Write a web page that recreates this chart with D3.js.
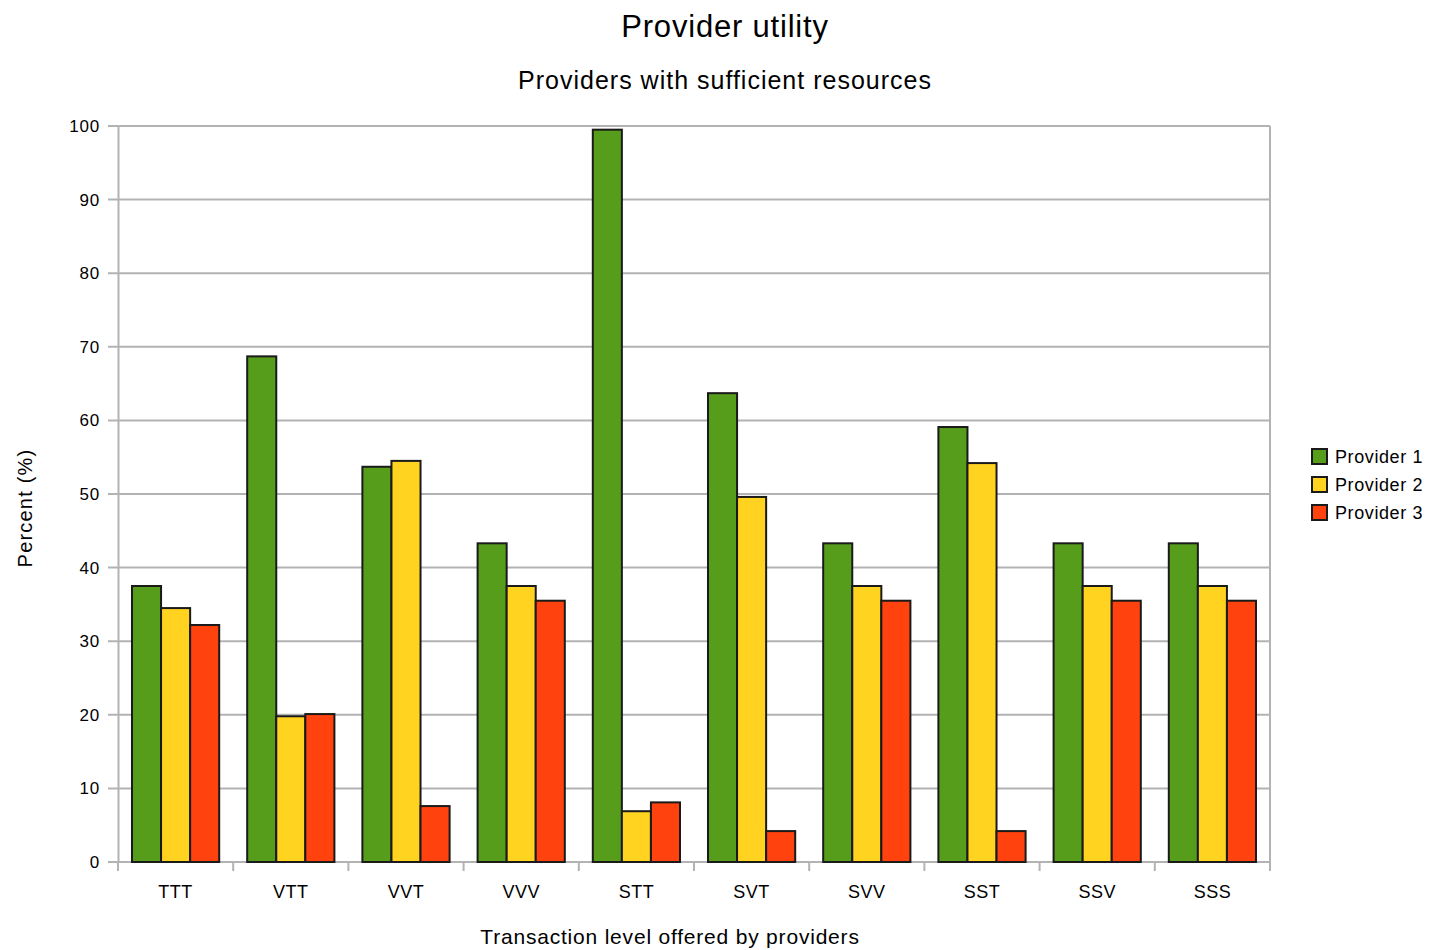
<!DOCTYPE html>
<html>
<head>
<meta charset="utf-8">
<script src="https://cdn.jsdelivr.net/npm/d3@7"></script>
<style>
  body { margin: 0; background: #fff; }
  text { font-family: "Liberation Sans", Arial, sans-serif; fill: #000; }
</style>
</head>
<body>
<div id="chart"></div>
<script>
// data
const levels = ["TTT", "VTT", "VVT", "VVV", "STT", "SVT", "SVV", "SST", "SSV", "SSS"];
const providers = ["Provider 1", "Provider 2", "Provider 3"];
const provider1 = [37.5, 68.7, 53.7, 43.3, 99.5, 63.7, 43.3, 59.1, 43.3, 43.3];
const provider2 = [34.5, 19.8, 54.5, 37.5, 6.9, 49.6, 37.5, 54.2, 37.5, 37.5];
const provider3 = [32.2, 20.1, 7.6, 35.5, 8.1, 4.2, 35.5, 4.2, 35.5, 35.5];
const yTicks = [0, 10, 20, 30, 40, 50, 60, 70, 80, 90, 100];
const colors = ["#579d1c", "#ffd320", "#ff420e"];

const series = [provider1, provider2, provider3];
const data = levels.map((lvl, i) => ({
    level: lvl,
    values: series.map((s, j) => ({ key: providers[j], value: s[i] }))
}));

const width = 1430, height = 950;
const margin = { top: 126, right: 160, bottom: 88, left: 118 };
const innerW = width - margin.left - margin.right;
const innerH = height - margin.top - margin.bottom;

const svg = d3.select("#chart")
    .append("svg")
    .attr("width", width)
    .attr("height", height);

const g = svg.append("g")
    .attr("transform", "translate(" + margin.left + "," + margin.top + ")");

const x0 = d3.scaleBand()
    .domain(levels)
    .range([0, innerW])
    .paddingInner(0.243)
    .paddingOuter(0.1215);

const x1 = d3.scaleBand()
    .domain(providers)
    .range([0, x0.bandwidth()]);

const y = d3.scaleLinear()
    .domain([0, 100])
    .range([innerH, 0]);

const color = d3.scaleOrdinal().domain(providers).range(colors);

// grid lines
g.append("g")
    .selectAll("line")
    .data(yTicks)
    .enter()
    .append("line")
    .attr("x1", -10)
    .attr("x2", innerW)
    .attr("y1", d => y(d))
    .attr("y2", d => y(d))
    .attr("stroke", "#b3b3b3")
    .attr("stroke-width", 2);

// y axis
const yAxis = g.append("g")
    .call(d3.axisLeft(y).tickValues(yTicks).tickSize(0).tickPadding(18));
yAxis.select(".domain").attr("stroke", "#b3b3b3").attr("stroke-width", 2);
yAxis.selectAll("text")
    .style("font-size", "17px")
    .style("letter-spacing", "0.8px")
    .style("font-family", "Liberation Sans, Arial, sans-serif");

// right border of plot
g.append("line")
    .attr("x1", innerW).attr("x2", innerW)
    .attr("y1", 0).attr("y2", innerH)
    .attr("stroke", "#b3b3b3")
    .attr("stroke-width", 2);

// x axis: ticks sit between the groups
const xAxis = g.append("g").attr("transform", "translate(0," + innerH + ")");
xAxis.append("line")
    .attr("x1", 0).attr("x2", innerW)
    .attr("stroke", "#b3b3b3").attr("stroke-width", 2);
const step = x0.step();
xAxis.selectAll(".sep")
    .data(d3.range(levels.length + 1))
    .enter()
    .append("line")
    .attr("x1", d => d * step)
    .attr("x2", d => d * step)
    .attr("y1", 0)
    .attr("y2", 9)
    .attr("stroke", "#b3b3b3")
    .attr("stroke-width", 2);
xAxis.selectAll(".lbl")
    .data(levels)
    .enter()
    .append("text")
    .attr("x", d => x0(d) + x0.bandwidth() / 2)
    .attr("y", 36)
    .style("text-anchor", "middle")
    .style("font-size", "18px")
    .style("letter-spacing", "0.5px")
    .text(d => d);

// bars
const groups = g.selectAll(".grp")
    .data(data)
    .enter()
    .append("g")
    .attr("transform", d => "translate(" + x0(d.level) + ",0)");

groups.selectAll("rect")
    .data(d => d.values)
    .enter()
    .append("rect")
    .attr("x", d => x1(d.key))
    .attr("y", d => y(d.value))
    .attr("width", x1.bandwidth())
    .attr("height", d => innerH - y(d.value))
    .attr("fill", d => color(d.key))
    .attr("stroke", "#1a1a1a")
    .attr("stroke-width", 2);

// titles
svg.append("text")
    .attr("x", 725)
    .attr("y", 37)
    .style("text-anchor", "middle")
    .style("font-size", "31px")
    .style("letter-spacing", "0.8px")
    .text("Provider utility");

svg.append("text")
    .attr("x", 725)
    .attr("y", 89)
    .style("text-anchor", "middle")
    .style("font-size", "25px")
    .style("letter-spacing", "1px")
    .text("Providers with sufficient resources");

// axis labels
svg.append("text")
    .attr("x", 670)
    .attr("y", 944)
    .style("text-anchor", "middle")
    .style("font-size", "21px")
    .style("letter-spacing", "0.8px")
    .text("Transaction level offered by providers");

svg.append("text")
    .attr("transform", "translate(32," + (margin.top + innerH / 2 + 14) + ") rotate(-90)")
    .style("text-anchor", "middle")
    .style("font-size", "20px")
    .style("letter-spacing", "1.2px")
    .text("Percent (%)");

// legend
const legend = svg.append("g").attr("transform", "translate(1312,449)");
const items = legend.selectAll(".item")
    .data(providers)
    .enter()
    .append("g")
    .attr("transform", (d, i) => "translate(0," + i * 28 + ")");
items.append("rect")
    .attr("width", 15)
    .attr("height", 15)
    .attr("fill", d => color(d))
    .attr("stroke", "#1a1a1a")
    .attr("stroke-width", 2);
items.append("text")
    .attr("x", 23)
    .attr("y", 14)
    .style("font-size", "18px")
    .style("letter-spacing", "0.6px")
    .text(d => d);
</script>
</body>
</html>
